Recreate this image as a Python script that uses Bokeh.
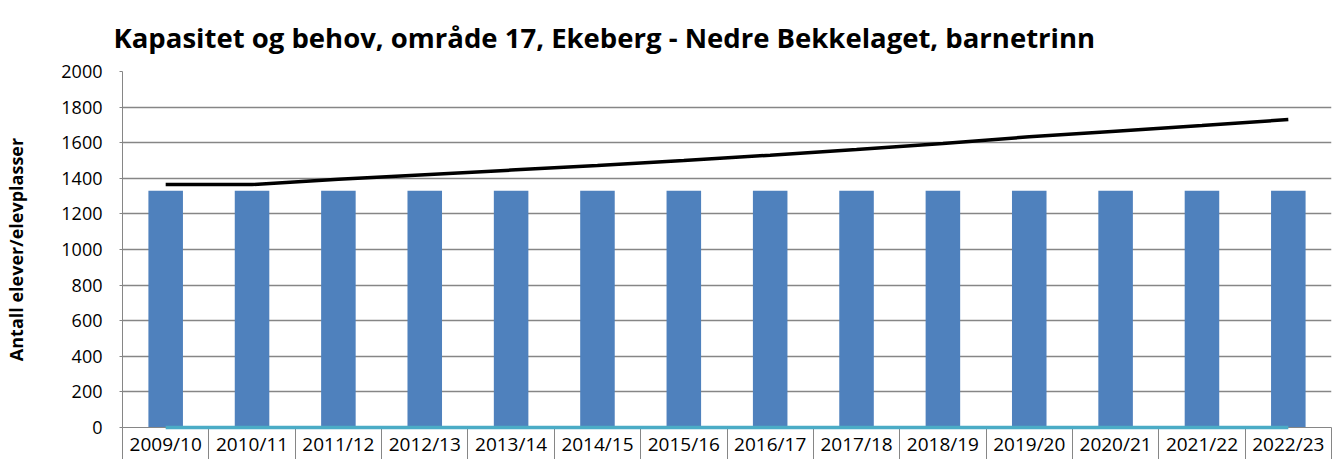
from bokeh.plotting import figure
from bokeh.models import FixedTicker, Range1d, ColumnDataSource, Title
from bokeh.embed import file_html
from bokeh.resources import INLINE

categories = ["2009/10", "2010/11", "2011/12", "2012/13", "2013/14", "2014/15", "2015/16",
              "2016/17", "2017/18", "2018/19", "2019/20", "2020/21", "2021/22", "2022/23"]
capacity = [1330, 1330, 1330, 1330, 1330, 1330, 1330, 1330, 1330, 1330, 1330, 1330, 1330, 1330]
demand = [1365, 1365, 1395, 1420, 1446, 1472, 1500, 1530, 1562, 1596, 1633, 1665, 1697, 1730]
other = [0, 0, 0, 0, 0, 0, 0, 0, 0, 0, 0, 0, 0, 0]

xs = [i + 0.5 for i in range(len(categories))]
src = ColumnDataSource(dict(x=xs, cap=capacity, dem=demand, oth=other))

FONT = "Open Sans"
GRID = "#868686"

p = figure(width=1332, height=459, x_range=Range1d(0, len(categories)), y_range=Range1d(0, 2000),
           output_backend="svg", toolbar_location=None,
           min_border_left=122, min_border_right=1, min_border_bottom=0)
p.title = Title(text="Kapasitet og behov, område 17, Ekeberg - Nedre Bekkelaget, barnetrinn",
                text_font=FONT, text_font_size="27.5px", text_font_style="bold", text_color="black",
                offset=-9, standoff=32)
p.outline_line_color = None
p.background_fill_color = "white"

p.vbar(x="x", top="cap", width=0.4, source=src, fill_color="#4F81BD", line_color=None)
p.line(x="x", y="dem", source=src, line_color="black", line_width=3.5)
p.line(x="x", y="oth", source=src, line_color="#4BACC6", line_width=3.5, level="overlay")

# x axis
p.xaxis.ticker = FixedTicker(ticks=xs, minor_ticks=list(range(len(categories) + 1)))
p.xaxis.major_label_overrides = {x: c for x, c in zip(xs, categories)}
p.xaxis.major_tick_line_color = None
p.xaxis.major_tick_out = 0
p.xaxis.major_tick_in = 0
p.xaxis.minor_tick_line_color = GRID
p.xaxis.minor_tick_in = -32
p.xaxis.minor_tick_out = 0
p.xaxis.axis_line_color = GRID
p.xaxis.major_label_text_font = FONT
p.xaxis.major_label_text_font_size = "19px"
p.xaxis.major_label_text_color = "black"
p.xaxis.major_label_standoff = 3
p.xgrid.grid_line_color = None

# y axis
p.yaxis.ticker = FixedTicker(ticks=list(range(0, 2001, 200)))
p.yaxis.axis_label = "Antall elever/elevplasser"
p.yaxis.axis_label_text_font = FONT
p.yaxis.axis_label_text_font_size = "18px"
p.yaxis.axis_label_text_font_style = "bold"
p.yaxis.axis_label_text_color = "black"
p.yaxis.axis_label_standoff = 30
p.yaxis.major_label_text_font = FONT
p.yaxis.major_label_text_font_size = "18px"
p.yaxis.major_label_text_color = "black"
p.yaxis.major_label_standoff = 17
p.yaxis.major_tick_line_color = GRID
p.yaxis.major_tick_out = 3
p.yaxis.major_tick_in = 0
p.yaxis.minor_tick_line_color = None
p.yaxis.axis_line_color = GRID
p.ygrid.grid_line_color = GRID
p.ygrid.grid_line_width = 1.5

open("out.html", "w").write(file_html(p, INLINE))
